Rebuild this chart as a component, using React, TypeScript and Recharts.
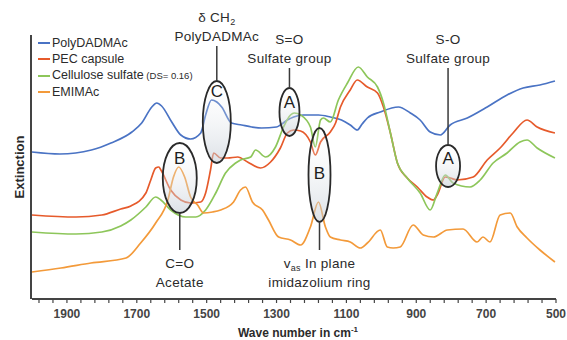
import { LineChart, Line, XAxis, YAxis, ReferenceDot, Legend } from 'recharts'

const FONT = '"Liberation Sans", Arial, sans-serif'
const INK = '#2b2b2b'

// wave numbers (cm-1) and extinction (arbitrary units)
const polyWn = [2000, 1920, 1830, 1774, 1714, 1686, 1657, 1643, 1629, 1600, 1574, 1546, 1517, 1503, 1486, 1471, 1457, 1429, 1400, 1371, 1343, 1300, 1289, 1269, 1251, 1223, 1180, 1146, 1114, 1089, 1069, 1055, 1040, 1003, 951, 917, 889, 860, 831, 803, 754, 697, 640, 594, 546, 503]
const polyExt = [147, 145, 149, 156, 167, 176, 192, 196, 193, 177, 164, 160, 166, 184, 199, 197, 192, 176, 174, 172, 171, 172, 174, 179, 182, 184, 184, 182, 179, 174, 169, 175, 181, 187, 192, 186, 179, 167, 164, 174, 181, 192, 204, 211, 214, 218]

const pecWn = [2000, 1874, 1800, 1746, 1717, 1674, 1660, 1646, 1637, 1631, 1603, 1574, 1546, 1517, 1503, 1489, 1480, 1460, 1440, 1411, 1383, 1346, 1317, 1289, 1269, 1251, 1231, 1203, 1189, 1174, 1146, 1131, 1117, 1089, 1069, 1040, 1011, 994, 974, 954, 926, 897, 869, 851, 840, 817, 803, 783, 737, 697, 660, 623, 583, 554, 503]
const pecExt = [84, 82, 84, 90, 93, 106, 119, 131, 132, 129, 109, 99, 96, 97, 106, 129, 146, 141, 141, 142, 137, 131, 137, 151, 166, 169, 168, 157, 144, 157, 167, 176, 192, 209, 219, 212, 206, 192, 166, 136, 121, 112, 102, 99, 104, 122, 121, 119, 122, 139, 151, 166, 179, 172, 166]

const cellWn = [2000, 1874, 1800, 1746, 1717, 1674, 1646, 1631, 1603, 1560, 1531, 1503, 1474, 1446, 1417, 1403, 1374, 1360, 1331, 1303, 1280, 1260, 1249, 1231, 1203, 1189, 1174, 1166, 1146, 1123, 1097, 1066, 1040, 1011, 994, 974, 954, 926, 889, 860, 840, 817, 795, 746, 717, 680, 640, 603, 583, 554, 503]
const cellExt = [67, 65, 67, 73, 79, 92, 102, 99, 89, 82, 82, 89, 106, 126, 136, 139, 142, 149, 142, 152, 172, 184, 186, 184, 172, 152, 179, 181, 177, 199, 216, 232, 222, 212, 196, 166, 136, 121, 106, 89, 106, 124, 116, 112, 119, 136, 146, 157, 159, 151, 141]

const emimWn = [2000, 1917, 1831, 1731, 1689, 1646, 1611, 1595, 1580, 1563, 1546, 1526, 1509, 1483, 1460, 1423, 1403, 1389, 1369, 1340, 1323, 1294, 1260, 1231, 1203, 1180, 1160, 1146, 1117, 1089, 1060, 1040, 1003, 983, 966, 946, 909, 880, 851, 811, 766, 726, 709, 689, 660, 631, 611, 583, 546, 503]
const emimExt = [27, 31, 36, 41, 56, 76, 99, 122, 132, 122, 102, 94, 86, 87, 89, 97, 109, 112, 97, 89, 79, 62, 59, 54, 72, 97, 72, 62, 59, 57, 51, 56, 69, 52, 51, 52, 74, 64, 62, 69, 70, 57, 62, 57, 84, 86, 72, 61, 49, 37]

const seriesNames = ['PolyDADMAc', 'PEC capsule', 'Cellulose sulfate', 'EMIMAc']
const seriesColors = ['#4a73c4', '#e65a2b', '#8dc65a', '#f39a3a']

const tickLabels = [1900, 1700, 1500, 1300, 1100, 900, 700, 500]
const minorTicks = Array.from({ length: 38 }, (_, i) => 500 + 40 * i)

// band assignments: position of the ellipse (wn, extinction) and its captions
const notes = [
  { wn: 1577, ext: 121, rx: 17, ry: 35, letter: 'B', letterDy: -20, stem: 37, labels: [[['C=O']], [['Acetate']]] },
  { wn: 1471, ext: 177, rx: 14, ry: 41, letter: 'C', letterDy: -31, stem: -35, labels: [[['δ CH'], ['2', 'sub']], [['PolyDADMAc']]] },
  { wn: 1263, ext: 187, rx: 10, ry: 24, letter: 'A', letterDy: -10, stem: -20, labels: [[['S=O']], [['Sulfate group']]] },
  { wn: 1177, ext: 124, rx: 11, ry: 47, letter: 'B', letterDy: -2, stem: 28, labels: [[['v'], ['as', 'sub'], [' In plane']], [['imidazolium ring']]] },
  { wn: 809, ext: 133, rx: 12, ry: 21, letter: 'A', letterDy: -8, stem: -77, labels: [[['S-O']], [['Sulfate group']]] },
]

const zip = (wn: number[], ext: number[]) => wn.map((w, i) => ({ wn: w, ext: ext[i] }))
const seriesData = [zip(polyWn, polyExt), zip(pecWn, pecExt), zip(cellWn, cellExt), zip(emimWn, emimExt)]

function Caption({ x, y, parts }: any) {
  return (
    <text x={x} y={y} textAnchor="middle" fontFamily={FONT} fontSize={13.5} fill={INK} letterSpacing={0.3}>
      {parts.map((p: any, i: number) => {
        const prevSub = i > 0 && parts[i - 1][1] === 'sub'
        if (p[1] === 'sub') return <tspan key={i} fontSize={9} dy={3}>{p[0]}</tspan>
        return <tspan key={i} dy={prevSub ? -3 : 0}>{p[0]}</tspan>
      })}
    </text>
  )
}

function Note({ cx, cy, note, idx }: any) {
  if (cx == null || cy == null) return null
  const top = cy - note.ry
  const bottom = cy + note.ry
  const up = note.stem < 0
  const stemFrom = up ? top : bottom
  const stemTo = stemFrom + note.stem
  const base = up ? stemTo - 6 - 18 * (note.labels.length - 1) : stemTo + 18
  const gid = `ellFill${idx}`
  return (
    <g>
      <defs>
        <linearGradient id={gid} x1="0" y1="0" x2="0" y2="1">
          <stop offset="0%" stopColor="#ffffff" stopOpacity={0.1} />
          <stop offset="100%" stopColor="#bfc8d2" stopOpacity={0.55} />
        </linearGradient>
      </defs>
      <ellipse cx={cx} cy={cy} rx={note.rx} ry={note.ry} fill={`url(#${gid})`} stroke="#2a2a2a" strokeWidth={1.8} />
      <text x={cx} y={cy + note.letterDy} textAnchor="middle" dominantBaseline="central" fontFamily={FONT} fontSize={17} fill="#1e1e1e">
        {note.letter}
      </text>
      <line x1={cx} x2={cx} y1={stemFrom} y2={stemTo} stroke="#3a3a3a" strokeWidth={1.5} />
      {note.labels.map((parts: any, i: number) => (
        <Caption key={i} x={cx} y={base + i * 18.5} parts={parts} />
      ))}
    </g>
  )
}

function XTick({ x, y, payload }: any) {
  const major = tickLabels.includes(payload.value)
  return (
    <g>
      <line x1={x} x2={x} y1={299} y2={303} stroke="#444" strokeWidth={1.2} />
      {major && (
        <text x={x} y={y + 13} textAnchor="middle" fontFamily={FONT} fontSize={12} fontWeight="bold" fill="#444">
          {payload.value}
        </text>
      )}
    </g>
  )
}

function XTitle({ viewBox }: any) {
  const { x, width } = viewBox
  return (
    <text x={x + width / 2 + 4} y={337} textAnchor="middle" fontFamily={FONT} fontSize={12} fontWeight="bold" fill={INK}>
      Wave number in cm<tspan fontSize={8} dy={-5}>-1</tspan>
    </text>
  )
}

function YTitle({ viewBox }: any) {
  const { x, y, height } = viewBox
  const cy = y + height / 2
  return (
    <g>
      <line x1={x} x2={x} y1={y} y2={y + height} stroke="#444" strokeWidth={2} />
      <text x={19} y={cy} transform={`rotate(-90 19 ${cy})`} textAnchor="middle" dominantBaseline="central" fontFamily={FONT} fontSize={13} fontWeight="bold" fill={INK}>
        Extinction
      </text>
    </g>
  )
}

function LegendBox() {
  return (
    <div style={{ fontFamily: FONT, fontSize: 12.5, color: INK, lineHeight: '16px' }}>
      {seriesNames.map((n, i) => (
        <div key={n} style={{ display: 'flex', alignItems: 'center', whiteSpace: 'nowrap' }}>
          <span style={{ display: 'inline-block', width: 12, height: 2, background: seriesColors[i], marginRight: 2 }} />
          <span>
            {n}
            {i === 2 && <span style={{ fontSize: 9.5 }}> (DS= 0.16)</span>}
          </span>
        </div>
      ))}
    </div>
  )
}

export default function App() {
  return (
    <div style={{ position: 'absolute', left: 0, top: 0, background: '#fff' }}>
      <LineChart width={567} height={340} margin={{ top: 35, right: 11, bottom: 0, left: 31 }}>
        <XAxis
          type="number"
          dataKey="wn"
          domain={[500, 2000]}
          reversed
          ticks={minorTicks}
          interval={0}
          tickSize={4}
          height={41}
          stroke="#444"
          axisLine={{ stroke: '#444', strokeWidth: 2 }}
          tickLine={false}
          tick={<XTick />}
          label={{ content: <XTitle /> }}
        />
        <YAxis
          type="number"
          domain={[0, 264]}
          width={1}
          tick={false}
          tickLine={false}
          stroke="#444"
          axisLine={false}
          label={{ content: <YTitle /> }}
        />
        <Legend
          layout="vertical"
          align="center"
          verticalAlign="middle"
          content={<LegendBox />}
          wrapperStyle={{ left: 38, top: 35, width: 220, height: 70 }}
        />
        {seriesData.map((d, i) => (
          <Line
            key={seriesNames[i]}
            data={d}
            dataKey="ext"
            name={seriesNames[i]}
            type="monotone"
            stroke={seriesColors[i]}
            strokeWidth={1.7}
            dot={false}
            activeDot={false}
            isAnimationActive={false}
          />
        ))}
        {notes.map((n, i) => (
          <ReferenceDot
            key={i}
            x={n.wn}
            y={n.ext}
            r={0}
            ifOverflow="visible"
            shape={(p: any) => <Note {...p} note={n} idx={i} />}
          />
        ))}
      </LineChart>
    </div>
  )
}
